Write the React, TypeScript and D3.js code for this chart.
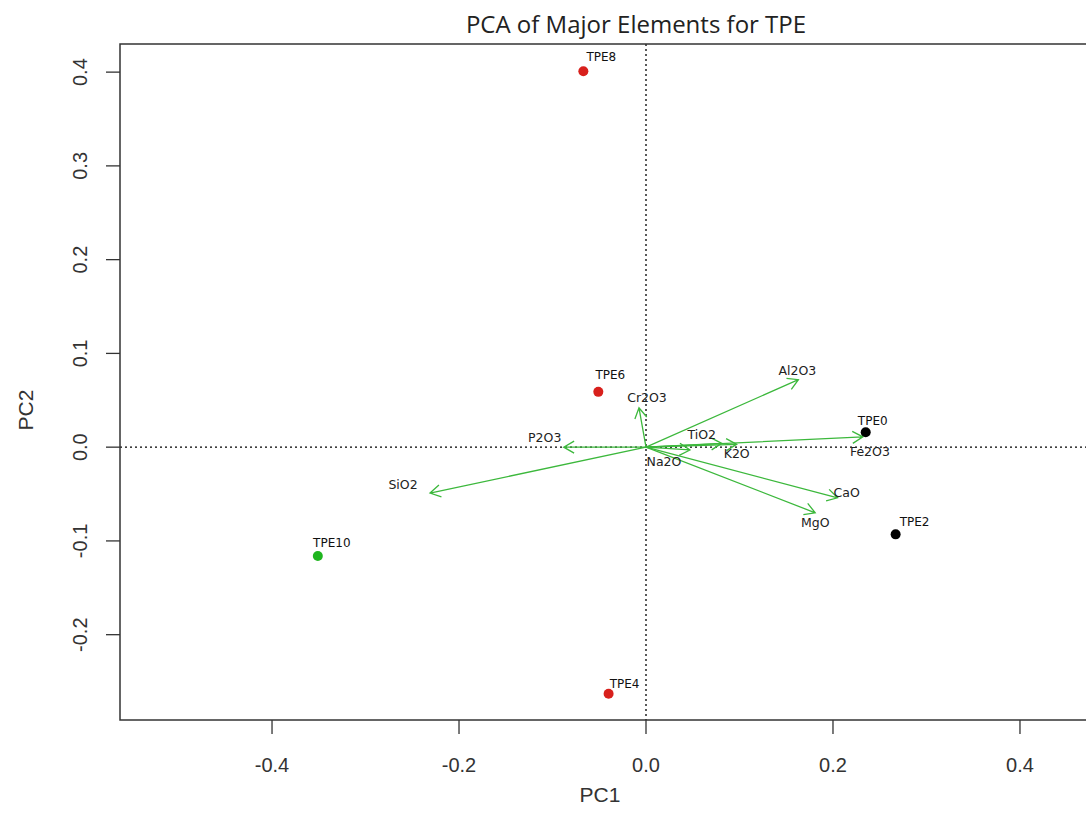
import React from "react";
import * as d3 from "d3";

// Sample scores
const sampleNames = ["TPE0", "TPE2", "TPE4", "TPE6", "TPE8", "TPE10"];
const samplePC1 = [0.235, 0.267, -0.040, -0.051, -0.067, -0.351];
const samplePC2 = [0.016, -0.093, -0.263, 0.059, 0.401, -0.116];
const sampleGroup = ["black", "black", "red", "red", "red", "green"];

// Variable loadings
const varNames = ["Al2O3", "Cr2O3", "P2O3", "SiO2", "Fe2O3", "CaO", "MgO", "TiO2", "K2O", "Na2O"];
const varPC1 = [0.163, -0.0075, -0.088, -0.231, 0.232, 0.205, 0.181, 0.081, 0.097, 0.047];
const varPC2 = [0.072, 0.042, 0.0, -0.049, 0.011, -0.054, -0.070, 0.004, 0.003, -0.003];

const xTicks = [-0.4, -0.2, 0.0, 0.2, 0.4];
const yTicks = [-0.2, -0.1, 0.0, 0.1, 0.2, 0.3, 0.4];

// layout-only label nudges (px)
const varLabelNudge: Record<string, [number, number]> = {
  Al2O3: [-1, -9], Cr2O3: [8, -10], P2O3: [-19, -10], SiO2: [-27, -9], Fe2O3: [7, 15],
  CaO: [9, -5], MgO: [0, 10], TiO2: [-20, -9], K2O: [0, 9], Na2O: [-26, 12],
};
const sampleLabelNudge: Record<string, [number, number]> = {
  TPE0: [7, -11], TPE2: [19, -12], TPE4: [16, -10], TPE6: [12, -17], TPE8: [18, -14], TPE10: [14, -13],
};

const groupColor: Record<string, string> = { black: "#000000", red: "#d8201c", green: "#1fb51f" };

export default function App() {
  const W = 1086, H = 827;
  const left = 120, top = 44, bottom = 720, right = 1172;
  const x = d3.scaleLinear().domain([-0.5626, 0.5626]).range([left, right]);
  const y = d3.scaleLinear().domain([-0.291, 0.43]).range([bottom, top]);
  const arrowColor = "#3cb83c";
  const fmt = (v: number) => v.toFixed(1);

  const arrows = varNames.map((n, i) => {
    const x0 = x(0), y0 = y(0), x1 = x(varPC1[i]), y1 = y(varPC2[i]);
    const ang = Math.atan2(y1 - y0, x1 - x0);
    const L = 12, a = Math.PI / 6;
    const p = d3.path();
    p.moveTo(x0, y0);
    p.lineTo(x1, y1);
    p.moveTo(x1 - L * Math.cos(ang - a), y1 - L * Math.sin(ang - a));
    p.lineTo(x1, y1);
    p.lineTo(x1 - L * Math.cos(ang + a), y1 - L * Math.sin(ang + a));
    const [dx, dy] = varLabelNudge[n] || [0, 0];
    return { n, d: p.toString(), lx: x1 + dx, ly: y1 + dy };
  });

  return (
    <svg width={W} height={H} style={{ position: "absolute", left: 0, top: 0, background: "#fff" }}>
      <rect x={0} y={0} width={W} height={H} fill="#fff" />
      <text x={636} y={33} textAnchor="middle" fontFamily="'Open Sans', sans-serif" fontSize={24} fill="#222">
        PCA of Major Elements for TPE
      </text>
      {/* reference lines */}
      <line x1={x(0)} x2={x(0)} y1={top} y2={bottom} stroke="#000" strokeDasharray="2,3" strokeWidth={1.3} />
      <line x1={left} x2={right} y1={y(0)} y2={y(0)} stroke="#000" strokeDasharray="2,3" strokeWidth={1.3} />
      {/* arrows */}
      {arrows.map((a) => (
        <path key={a.n} d={a.d} fill="none" stroke={arrowColor} strokeWidth={1.3} />
      ))}
      {arrows.map((a) => (
        <text key={a.n + "l"} x={a.lx} y={a.ly} textAnchor="middle" dominantBaseline="central"
          fontFamily="'DejaVu Sans', sans-serif" fontSize={12.5} fill="#222">{a.n}</text>
      ))}
      {/* points */}
      {sampleNames.map((n, i) => (
        <circle key={n} cx={x(samplePC1[i])} cy={y(samplePC2[i])} r={5} fill={groupColor[sampleGroup[i]]} />
      ))}
      {sampleNames.map((n, i) => {
        const [dx, dy] = sampleLabelNudge[n];
        return (
          <text key={n + "l"} x={x(samplePC1[i]) + dx} y={y(samplePC2[i]) + dy} textAnchor="middle"
            dominantBaseline="central" fontFamily="'DejaVu Sans', sans-serif" fontSize={12} fill="#111">{n}</text>
        );
      })}
      {/* box */}
      <rect x={left} y={top} width={right - left} height={bottom - top} fill="none" stroke="#333" strokeWidth={1.5} />
      {/* x axis */}
      {xTicks.map((t) => (
        <g key={"x" + t}>
          <line x1={x(t)} x2={x(t)} y1={bottom} y2={bottom + 14} stroke="#333" strokeWidth={1.3} />
          <text x={x(t)} y={765} textAnchor="middle" dominantBaseline="central"
            fontFamily="'Liberation Sans', Arial, sans-serif" fontSize={20} fill="#333">{fmt(t)}</text>
        </g>
      ))}
      {/* y axis */}
      {yTicks.map((t) => (
        <g key={"y" + t}>
          <line x1={left - 14} x2={left} y1={y(t)} y2={y(t)} stroke="#333" strokeWidth={1.3} />
          <text transform={`translate(80,${y(t)}) rotate(-90)`} textAnchor="middle" dominantBaseline="central"
            fontFamily="'Liberation Sans', Arial, sans-serif" fontSize={20} fill="#333">{fmt(t)}</text>
        </g>
      ))}
      <text x={600} y={794} textAnchor="middle" dominantBaseline="central"
        fontFamily="'Liberation Sans', Arial, sans-serif" fontSize={21} fill="#333">PC1</text>
      <text transform={`translate(25,410) rotate(-90)`} textAnchor="middle" dominantBaseline="central"
        fontFamily="'Liberation Sans', Arial, sans-serif" fontSize={21} fill="#333">PC2</text>
    </svg>
  );
}
